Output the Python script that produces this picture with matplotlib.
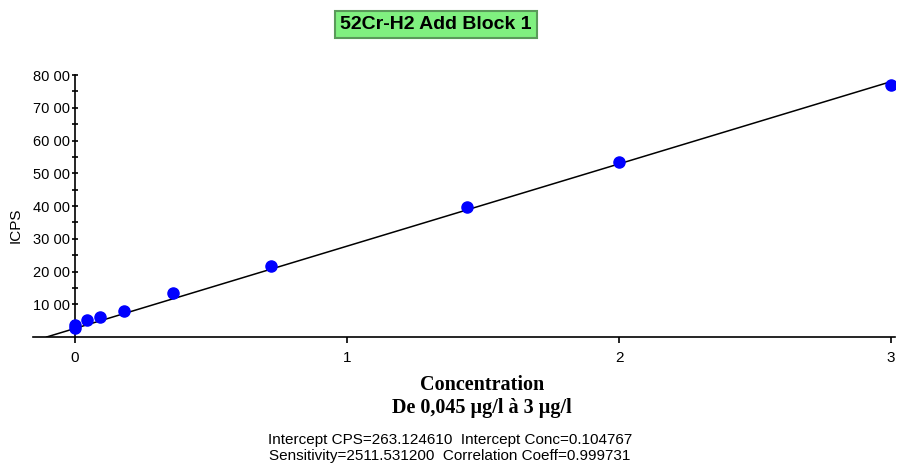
"""52Cr-H2 Add Block 1 calibration curve"""
import matplotlib.pyplot as plt
import numpy as np
from matplotlib.ticker import FixedLocator

# ===== data
conc = [0.0, 0.0, 0.045, 0.09, 0.18, 0.36, 0.72, 1.44, 2.0, 3.0]
icps = [280, 380, 520, 620, 790, 1350, 2170, 3980, 5350, 7680]

intercept_cps = 263.124610
intercept_conc = 0.104767
sensitivity = 2511.531200
corr_coeff = 0.999731

x_ticks = [0, 1, 2, 3]
y_ticks = [1000, 2000, 3000, 4000, 5000, 6000, 7000, 8000]
y_labels = ["10 00", "20 00", "30 00", "40 00", "50 00", "60 00", "70 00", "80 00"]

title = "52Cr-H2 Add Block 1"
xlabel = "Concentration\nDe 0,045 µg/l à 3 µg/l"
stats = (
    f"Intercept CPS={intercept_cps:.6f}  Intercept Conc={intercept_conc:.6f}\n"
    f"Sensitivity={sensitivity:.6f}  Correlation Coeff={corr_coeff:.6f}"
)


def main():
    plt.rcParams["font.family"] = ["Liberation Sans", "DejaVu Sans"]
    fig = plt.figure(figsize=(8.98, 4.76), dpi=100)
    ax = fig.add_axes([0.0367, 0.292, 0.96, 0.5504])

    # regression line from the fit parameters
    x_line = np.array([-intercept_conc, 3.0])
    ax.plot(x_line, intercept_cps + sensitivity * x_line, color="black", lw=1.1, zorder=2)
    ax.plot(conc, icps, "o", color="#0000ff", ms=8, mec="#0000ff", zorder=3)

    ax.set_xlim(-0.155, 3.015)
    ax.set_ylim(0, 8000)

    ax.spines["top"].set_visible(False)
    ax.spines["right"].set_visible(False)
    ax.spines["left"].set_position(("data", 0))
    ax.spines["left"].set_bounds(0, 8000)
    for s in ("left", "bottom"):
        ax.spines[s].set_linewidth(1.2)

    ax.set_xticks(x_ticks)
    ax.set_xticklabels([str(t) for t in x_ticks], fontsize=11)
    ax.set_yticks(y_ticks)
    ax.set_yticklabels(y_labels, fontsize=10.5)
    ax.yaxis.set_minor_locator(FixedLocator(np.arange(500, 8000, 1000)))
    ax.tick_params(axis="y", which="both", direction="inout", length=5, width=1.2, pad=1)
    ax.tick_params(axis="x", direction="out", length=4, width=1.2, pad=6)

    fig.text(0.017, 0.527, "ICPS", rotation=90, ha="center", va="center", fontsize=11)

    fig.text(0.4855, 0.948, title, ha="center", va="center", fontsize=14, fontweight="bold",
             bbox=dict(boxstyle="square,pad=0.25", facecolor="#80f080", edgecolor="#5a9a5a", lw=1.5))

    fig.text(0.537, 0.168, xlabel, ha="center", va="center", fontsize=14.5,
             fontweight="bold", family=["Liberation Serif", "DejaVu Serif"], linespacing=1.2)

    fig.text(0.501, 0.058, stats, ha="center", va="center", fontsize=11, linespacing=1.2)

    fig.savefig("out.png", dpi=100)


if __name__ == "__main__":
    main()
